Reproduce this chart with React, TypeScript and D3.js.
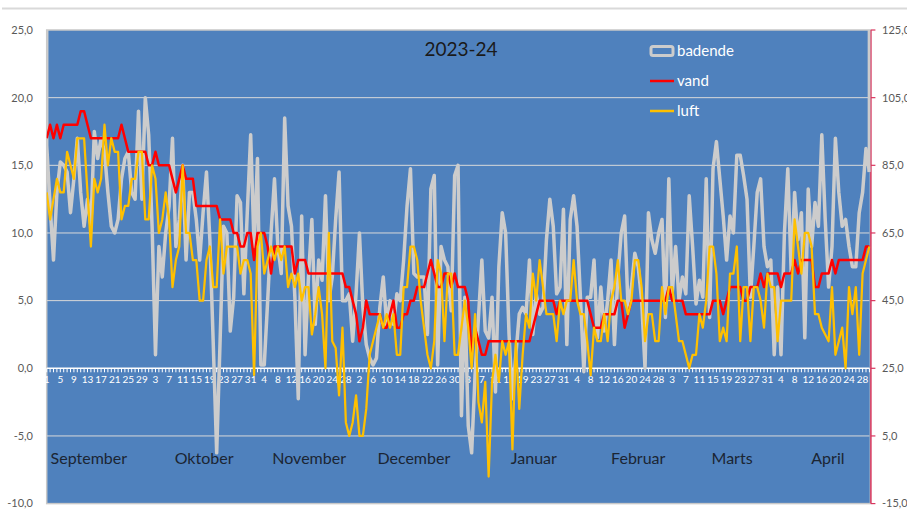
import React from 'react';
import * as d3 from 'd3';

// daily values, 1 Sep 2023 .. 30 Apr 2024
const badende = [
  91, 73, 57, 77, 86, 85, 83, 71, 81, 93,
  77, 67, 75, 67, 95, 87, 93, 89, 77, 67,
  65, 69, 81, 87, 89, 77, 75, 101, 75, 105,
  94, 67, 29, 61, 52, 65, 73, 93, 61, 69,
  85, 57, 77, 77, 69, 57, 71, 83, 63, 32,
  0, 33, 67, 65, 36, 46, 76, 74, 47, 71,
  94, 61, 87, 26, 26, 45, 65, 81, 61, 53,
  99, 73, 67, 46, 16, 70, 29, 52, 69, 38,
  57, 51, 76, 45, 52, 69, 83, 45, 45, 47,
  33, 47, 65, 43, 32, 28, 26, 28, 43, 52,
  38, 45, 38, 47, 45, 57, 73, 84, 53, 52,
  52, 52, 35, 78, 82, 26, 61, 57, 55, 42,
  82, 85, 11, 46, 8, 0, 23, 40, 57, 36,
  34, 46, 18, 55, 71, 65, 35, 16, 29, 41,
  43, 41, 57, 35, 47, 41, 43, 63, 75, 67,
  47, 49, 72, 32, 69, 76, 67, 46, 24, 46,
  46, 57, 34, 49, 36, 45, 57, 32, 52, 65,
  70, 43, 49, 59, 55, 45, 25, 71, 63, 59,
  65, 69, 40, 81, 47, 61, 45, 52, 47, 76,
  61, 44, 51, 46, 81, 40, 84, 92, 81, 70,
  57, 70, 65, 88, 88, 82, 75, 46, 61, 77,
  81, 61, 55, 57, 29, 49, 29, 65, 84, 53,
  77, 63, 71, 34, 78, 61, 74, 67, 94, 69,
  49, 61, 93, 77, 67, 69, 61, 55, 55, 71,
  77, 90, 83,
];

const vand = [
  17, 18, 17, 18, 17, 18, 18, 18, 18, 18,
  19, 19, 18, 17, 17, 17, 17, 17, 17, 17,
  17, 17, 18, 17, 16, 16, 16, 16, 16, 16,
  15, 15, 16, 15, 15, 15, 15, 14, 13, 14,
  15, 14, 14, 14, 12, 12, 12, 12, 12, 12,
  12, 11, 11, 11, 11, 10, 10, 9, 9, 10,
  10, 8, 10, 10, 10, 9, 7, 9, 9, 9,
  9, 9, 9, 7, 8, 8, 8, 7, 7, 7,
  7, 7, 7, 7, 7, 7, 7, 7, 6, 6,
  5, 4, 2, 3, 5, 4, 4, 4, 4, 3,
  3, 4, 5, 3, 3, 4, 4, 5, 5, 6,
  6, 6, 7, 8, 7, 6, 6, 7, 7, 6,
  7, 6, 6, 6, 5, 1, 3, 2, 1, 1,
  2, 2, 2, 2, 2, 2, 2, 2, 2, 2,
  2, 2, 2, 3, 4, 5, 5, 5, 5, 5,
  4, 5, 5, 5, 5, 5, 5, 5, 5, 5,
  4, 3, 3, 3, 4, 4, 4, 4, 5, 5,
  3, 4, 5, 5, 5, 5, 5, 5, 5, 5,
  5, 5, 5, 6, 5, 5, 5, 5, 4, 4,
  4, 4, 4, 4, 4, 4, 5, 5, 5, 4,
  5, 6, 6, 6, 6, 5, 5, 6, 6, 6,
  7, 6, 7, 7, 7, 7, 6, 7, 7, 7,
  8, 7, 8, 8, 8, 8, 6, 6, 7, 7,
  7, 8, 7, 8, 8, 8, 8, 8, 8, 8,
  8, 9, 9,
];

const luft = [
  13, 11, 12.5, 14, 13, 13, 16, 15, 14, 17,
  17, 17, 13, 9, 14, 13, 14, 18, 15, 17,
  16, 16, 11, 12, 12, 14, 14, 16, 16, 11,
  11, 15, 14, 10, 11, 13, 11, 6, 8, 9,
  15, 10, 10, 8, 8, 5, 5, 8, 9, 6,
  6, 11, 7, 9, 9, 9, 9, 7, 8, 8,
  7, -0.5, 9, 10, 7, 8, 9, 8, 9, 8,
  9, 6, 7, 6, 7, 5, 6, 6, 2.5, 4,
  6, 4, 0, 10, 2, 1.5, -2, 3, -4, -5,
  -4, -2, -5, -5, -3, 1, 2, 3, 4, 3,
  4, 3, 4, 1, 1, 6, 6, 9, 9, 8,
  5, 3, 1, 0, 2, 8, 7, 2, 7, 7,
  1, 1, 3, 5, 3, 0, 4, -2.5, -4, -1,
  -8, -1, 1, -1, 2, 1, 2, -6, 2, -3,
  1, 4, 3, 7, 5, 8, 6, 4, 4, 4,
  2, 5, 4, 5, 5, 8, 5, 4, 4, 2,
  -0.5, 3, 2, 2, 4, 2, 5, 6, 8, 5,
  5, 4, 5, 8, 8, 6, 2, 4, 4, 2,
  2, 6, 4, 6, 6, 4, 2, 2, 1, 0,
  1, 1, 4, 3, 5, 9, 9, 7, 2, 3,
  2, 7, 7, 9, 2, 6, 6, 2, 6, 6,
  5, 3, 7, 6, 6, 2, 5, 5, 5, 5,
  11, 9, 7, 10, 10, 9, 4, 4, 3, 2.5,
  2, 6, 1, 2, 3, 0, 6, 4, 6, 1,
  7, 8, 9,
];

const days = d3.timeDay.range(new Date(2023, 8, 1), new Date(2024, 4, 1));
const monthNames = ['September', 'Oktober', 'November', 'December', 'Januar', 'Februar', 'Marts', 'April'];
// day index under which each month name is centred
const monthLabelDay = [12.4, 46.3, 77.2, 108, 143.3, 174, 201.6, 229.8];
const leftTicks = [25, 20, 15, 10, 5, 0, -5, -10];
const rightTicks = [125, 105, 85, 65, 45, 25, 5, -15];
const title = '2023-24';
const legend = [
  { name: 'badende', color: '#CCCCCC' },
  { name: 'vand', color: '#FF0000' },
  { name: 'luft', color: '#FFC000' },
];

const W = 907, H = 519;
const P = { left: 46.7, right: 869.4, top: 30, bottom: 503.6 };
const font = 'Lato, "Open Sans", sans-serif';
const fmt = (v: number) => v.toFixed(1).replace('.', ',');

export default function App() {
  const x = d3.scaleLinear().domain([0, days.length - 1]).range([P.left, P.right]);
  const yL = d3.scaleLinear().domain([-10, 25]).range([P.bottom, P.top]);
  const yR = d3.scaleLinear().domain([-15, 125]).range([P.bottom, P.top]);

  const lineL = d3.line<number>().x((_, i) => x(i)).y(d => yL(d));
  const lineR = d3.line<number>().x((_, i) => x(i)).y(d => yR(d));

  const last = badende.length - 1;

  return (
    <svg width={W} height={H} style={{ position: 'absolute', left: 0, top: 0, background: '#fff' }}>
      <defs>
        <clipPath id="plotclip">
          <rect x={P.left} y={P.top} width={P.right - P.left + 1} height={P.bottom - P.top} />
        </clipPath>
      </defs>
      <line x1={2} x2={W} y1={8.5} y2={8.5} stroke="#D9D9D9" strokeWidth={2} />

      {/* plot area */}
      <rect x={P.left} y={P.top} width={P.right - P.left + 1} height={P.bottom - P.top} fill="#4F81BD" stroke="#C8C8C8" strokeWidth={1.5} />
      {leftTicks.filter(t => t !== 25 && t !== -10 && t !== 0).map(t => (
        <line key={t} x1={P.left} x2={P.right} y1={yL(t)} y2={yL(t)} stroke="#D9D9D9" strokeWidth={1} />
      ))}

      {/* left axis labels */}
      {leftTicks.map(t => (
        <text key={t} x={33} y={yL(t)} dy="0.35em" textAnchor="end" fontSize={11} fill="#595959" fontFamily={font}>{fmt(t)}</text>
      ))}

      {/* right axis */}
      <line x1={P.right + 1.5} x2={P.right + 1.5} y1={P.top} y2={P.bottom} stroke="#D9365E" strokeWidth={1.5} />
      {rightTicks.map(t => (
        <g key={t}>
          <line x1={P.right + 1.5} x2={P.right + 6} y1={yR(t)} y2={yR(t)} stroke="#D9365E" strokeWidth={1.2} />
          <text x={882} y={yR(t)} dy="0.35em" fontSize={11} fill="#595959" fontFamily={font}>{fmt(t)}</text>
        </g>
      ))}

      {/* category axis on the zero line */}
      <line x1={P.left} x2={P.right} y1={yL(0)} y2={yL(0)} stroke="#FFFFFF" strokeWidth={1.5} />
      {days.map((d, i) => (
        <line key={i} x1={x(i)} x2={x(i)} y1={yL(0)} y2={yL(0) + 4} stroke="#FFFFFF" strokeWidth={1} />
      ))}
      {days.map((d, i) => i % 4 === 0 ? (
        <text key={i} x={x(i)} y={yL(0) + 15} textAnchor="middle" fontSize={10} fill="#FFFFFF" fontFamily={font}>{d.getDate()}</text>
      ) : null)}

      {monthNames.map((m, k) => (
        <text key={m} x={x(monthLabelDay[k])} y={464} textAnchor="middle" fontSize={16} fill="#1B2533" fontFamily={font}>{m}</text>
      ))}

      {/* series */}
      <g clipPath="url(#plotclip)" fill="none" strokeLinejoin="round">
        <path d={lineR(badende) || ''} stroke="#CCCCCC" strokeWidth={3.5} />
        <line x1={x(0)} x2={x(0)} y1={P.top} y2={yR(badende[0])} stroke="#CCCCCC" strokeWidth={3.5} />
        <line x1={x(last)} x2={x(last)} y1={P.top} y2={yR(badende[last])} stroke="#CCCCCC" strokeWidth={3.5} />
        <path d={lineL(vand) || ''} stroke="#FF0000" strokeWidth={2.5} />
        <path d={lineL(luft) || ''} stroke="#FFC000" strokeWidth={2.25} />
      </g>

      {/* title */}
      <text x={461} y={56} textAnchor="middle" fontSize={19} fill="#1A1A1A" fontFamily={font}>{title}</text>

      {/* legend */}
      {legend.map((s, k) => {
        const ly = 51 + k * 30;
        return (
          <g key={s.name}>
            {k === 0
              ? <rect x={651} y={ly - 4.5} width={22} height={9} rx={2} fill="none" stroke={s.color} strokeWidth={3} />
              : <line x1={650} x2={674} y1={ly} y2={ly} stroke={s.color} strokeWidth={2.5} />}
            <text x={677} y={ly} dy="0.35em" fontSize={15} fill="#FFFFFF" fontFamily={font}>{s.name}</text>
          </g>
        );
      })}
    </svg>
  );
}
